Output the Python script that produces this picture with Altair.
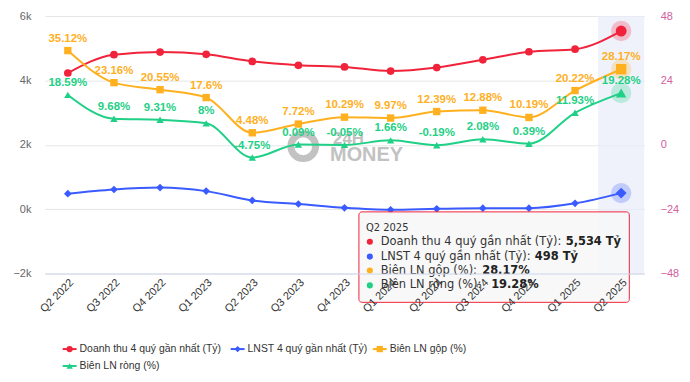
import altair as alt
import pandas as pd

quarters = ["Q2 2022", "Q3 2022", "Q4 2022", "Q1 2023", "Q2 2023", "Q3 2023", "Q4 2023",
            "Q1 2024", "Q2 2024", "Q3 2024", "Q4 2024", "Q1 2025", "Q2 2025"]
revenue = [4230, 4800, 4880, 4810, 4590, 4470, 4420, 4290, 4400, 4640, 4890, 4970, 5534]
profit = [480, 610, 670, 560, 270, 160, 40, -20, 10, 30, 30, 180, 498]
gross_margin = [35.12, 23.16, 20.55, 17.6, 4.48, 7.72, 10.29, 9.97, 12.39, 12.88, 10.19, 20.22, 28.17]
net_margin = [18.59, 9.68, 9.31, 8, -4.75, 0.09, -0.05, 1.66, -0.19, 2.08, 0.39, 11.93, 19.28]

series_names = ["Doanh thu 4 quý gần nhất (Tỷ)", "LNST 4 quý gần nhất (Tỷ)",
                "Biên LN gộp (%)", "Biên LN ròng (%)"]
tooltip_values = ["5,534 Tỷ", "498 Tỷ", "28.17%", "19.28%"]
highlight_quarter = "Q2 2025"
watermark = ["24H", "MONEY"]

RED, BLUE, ORANGE, GREEN = "#f0233b", "#3a5bff", "#ffb01f", "#1fd086"
colors = [RED, BLUE, ORANGE, GREEN]
shapes = ["circle", "diamond", "square", "triangle-up"]

df = pd.DataFrame({
    "q": quarters, "rev": revenue, "lnst": profit,
    "gross": gross_margin, "net": net_margin,
    "gross_lbl": [f"{v:g}%" for v in gross_margin],
    "net_lbl": [f"{v:g}%" for v in net_margin],
})
last = df[df["q"] == highlight_quarter]
one = pd.DataFrame({"d": [0]})

FONT = "Liberation Sans"
W, H = 603, 259

xscale = alt.Scale(type="band", domain=quarters, paddingInner=0, paddingOuter=0)
xaxis = alt.Axis(title=None, labelAngle=-45, labelAlign="right", labelBaseline="top",
                 labelPadding=3, ticks=False, domain=True, domainColor="#ccd6eb",
                 grid=False, labelColor="#333333", labelFontSize=11, labelFont=FONT)
X = alt.X("q:N", sort=quarters, scale=xscale, axis=xaxis)

lscale = alt.Scale(domain=[-2000, 6000], nice=False, zero=False)
laxis = alt.Axis(title=None, values=[-2000, 0, 2000, 4000, 6000], format="~s",
                 domain=False, ticks=False, grid=True, gridColor="#e6e6e6",
                 labelColor="#666666", labelFontSize=11, labelFont=FONT, labelPadding=14)
rscale = alt.Scale(domain=[-48, 48], nice=False, zero=False)
raxis = alt.Axis(title=None, orient="right", values=[-48, -24, 0, 24, 48],
                 domain=False, ticks=False, grid=False,
                 labelColor="#d0609e", labelFontSize=11, labelFont=FONT, labelPadding=16)

base = alt.Chart(df)

band = base.transform_filter(alt.datum.q == highlight_quarter).mark_rect(
    color="#e8edf8", opacity=0.7).encode(x=X)

def series_layers(field, color, shape, size, yscale, yaxis, label_field=None):
    Y = alt.Y(f"{field}:Q", scale=yscale, axis=yaxis)
    line = base.mark_line(color=color, strokeWidth=2, interpolate="monotone").encode(x=X, y=Y)
    pts = base.transform_filter(alt.datum.q != highlight_quarter).mark_point(
        shape=shape, filled=True, size=size, color=color, opacity=1).encode(x=X, y=Y)
    halo = alt.Chart(last).mark_point(shape="circle", filled=True, size=420,
                                      color=color, opacity=0.25).encode(x=X, y=Y)
    big = alt.Chart(last).mark_point(shape=shape, filled=True, size=size * 2.0,
                                     color=color, opacity=1).encode(x=X, y=Y)
    layers = [line, pts, halo, big]
    if label_field:
        lbl = base.mark_text(color=color, fontWeight="bold", fontSize=11.5, font=FONT,
                             dy=-12, baseline="middle").encode(x=X, y=Y, text=f"{label_field}:N")
        layers.append(lbl)
    return layers

def txt(text, x, y, **kw):
    return alt.Chart(one).mark_text(text=text, align="left", baseline="middle", **kw).encode(
        x=alt.value(x), y=alt.value(y))

# watermark
wm_ring = alt.Chart(one).mark_point(shape="circle", filled=False, size=620, strokeWidth=7,
                                    color="#b3b3b3", opacity=0.8).encode(x=alt.value(260), y=alt.value(131))
wm1 = txt(watermark[0], 290, 124, font=FONT, fontSize=17, fontWeight="bold", color="#b3b3b3", opacity=0.8)
wm2 = txt(watermark[1], 287, 140, font=FONT, fontSize=20, fontWeight="bold", color="#b3b3b3", opacity=0.8)

left = alt.layer(
    band, wm_ring, wm1, wm2,
    *series_layers("rev", RED, "circle", 60, lscale, laxis),
    *series_layers("lnst", BLUE, "diamond", 60, lscale, laxis),
)
right = alt.layer(
    *series_layers("gross", ORANGE, "square", 55, rscale, raxis, "gross_lbl"),
    *series_layers("net", GREEN, "triangle-up", 55, rscale, raxis, "net_lbl"),
)

# tooltip box
TFONT = "DejaVu Sans"
tip = [alt.Chart(one).mark_rect(fill="#f7f7f7", fillOpacity=0.88, stroke=RED, strokeWidth=1,
                                cornerRadius=3).encode(
    x=alt.value(316), x2=alt.value(588), y=alt.value(197), y2=alt.value(288))]
tip.append(txt(highlight_quarter, 323, 213, font=TFONT, fontSize=10, color="#333333"))
row_y = [227, 242, 256, 271]
val_x = [524, 493, 440, 449]
for i in range(4):
    tip.append(alt.Chart(one).mark_point(shape="circle", filled=True, size=38, color=colors[i],
                                         opacity=1).encode(x=alt.value(327), y=alt.value(row_y[i])))
    tip.append(txt(series_names[i] + ":", 338, row_y[i], font=TFONT, fontSize=11.5, color="#333333"))
    tip.append(txt(tooltip_values[i], val_x[i], row_y[i], font=TFONT, fontSize=11.5,
                   fontWeight="bold", color="#222222"))

# legend
leg_pos = [(18, 335), (187, 335), (330, 335), (18, 352)]
legend = []
for i, (lx, ly) in enumerate(leg_pos):
    legend.append(alt.Chart(one).mark_rule(color=colors[i], strokeWidth=2).encode(
        x=alt.value(lx), x2=alt.value(lx + 14), y=alt.value(ly)))
    legend.append(alt.Chart(one).mark_point(shape=shapes[i], filled=True, size=40, color=colors[i],
                                            opacity=1).encode(x=alt.value(lx + 7), y=alt.value(ly)))
    legend.append(txt(series_names[i], lx + 17, ly, font=FONT, fontSize=10.5, color="#333333"))

chart = alt.layer(left, right, *tip, *legend).resolve_scale(y="independent").properties(
    width=W, height=H,
    autosize=alt.AutoSizeParams(type="none"),
    padding={"left": 37, "top": 7, "right": 38, "bottom": 100},
).configure_view(stroke=None)

chart.save("out.html", embed_options={"renderer": "svg", "actions": False})
